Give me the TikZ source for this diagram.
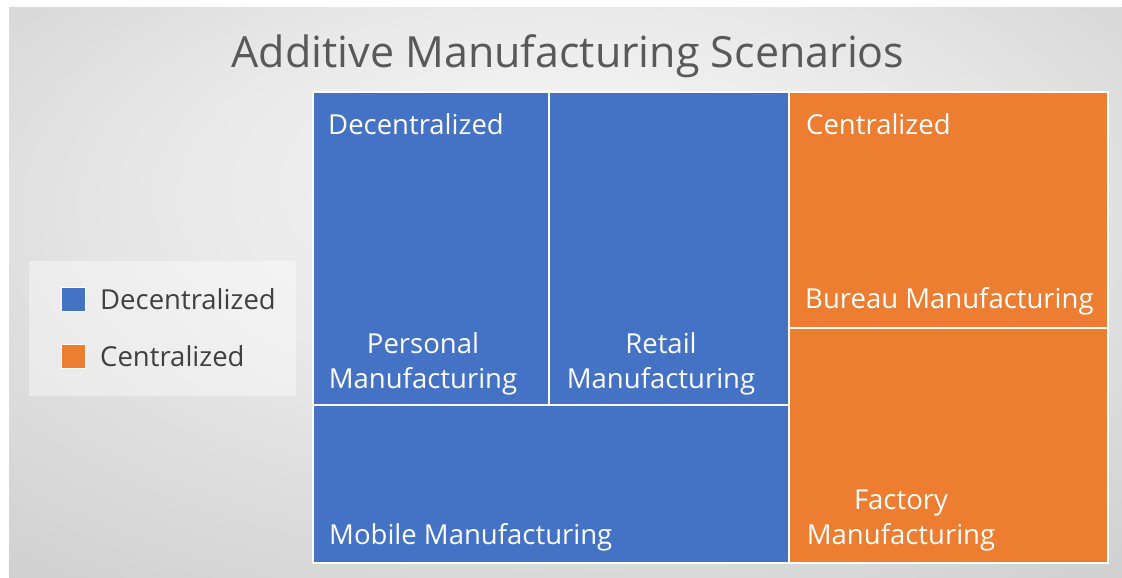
\documentclass[tikz,border=0pt]{standalone}
\usepackage{xcolor}
\usepackage{fontspec}
\setmainfont{Open Sans}
\usepackage{tikz}
\usetikzlibrary{positioning}

\definecolor{azul}{HTML}{4472C4}
\definecolor{naranja}{HTML}{ED7D31}
\definecolor{titulo}{HTML}{595959}
\definecolor{leyenda}{HTML}{404040}
\pgfdeclareradialshading{fondo}{\pgfpoint{0bp}{12bp}}{color(0bp)=(gray!6); color(18bp)=(gray!18); color(40bp)=(gray!38); color(60bp)=(gray!48)}

\begin{document}
\begin{tikzpicture}[x=1pt, y=-1pt,
  cell/.style={rectangle, draw=white, line width=2pt, inner sep=0pt, outer sep=0pt, anchor=north west},
  celltxt/.style={text=white, font=\fontsize{27.5}{35}\selectfont, align=center, inner sep=0pt},
  swatch/.style={rectangle, draw=white, line width=1pt, minimum size=24pt, inner sep=0pt},
  legtxt/.style={text=leyenda, font=\fontsize{27.5}{35}\selectfont, anchor=west, inner sep=0pt}]
\useasboundingbox (0,0) rectangle (1122,578);
\fill[white] (0,0) rectangle (1122,578);
\shade[shading=fondo] (9,8) rectangle (1122,578);

% Titulo
\node[text=titulo, font=\fontsize{43}{50}\selectfont, inner sep=0pt] (title) at (568,56) {Additive Manufacturing Scenarios};

% Celdas
\node[cell, fill=azul, minimum width=236pt, minimum height=313pt] (pers) at (313,92) {};
\node[cell, fill=azul, minimum width=240pt, minimum height=313pt] (ret) at (549,92) {};
\node[cell, fill=azul, minimum width=476pt, minimum height=158pt] (mob) at (313,405) {};
\node[cell, fill=naranja, minimum width=319pt, minimum height=236pt] (bur) at (789,92) {};
\node[cell, fill=naranja, minimum width=319pt, minimum height=235pt] (fac) at (789,328) {};

% Textos
\node[celltxt, anchor=west] (dec) at (328,124) {Decentralized};
\node[celltxt] (perstxt) at (423,364) {Personal\\Manufacturing};
\node[celltxt] (rettxt) at (661,364) {Retail\\Manufacturing};
\node[celltxt, anchor=west] (cen) at (806,124) {Centralized};
\node[celltxt, anchor=west] (burtxt) at (805,301) {Bureau Manufacturing};
\node[celltxt, anchor=west] (mobtxt) at (329,537) {Mobile Manufacturing};
\node[celltxt] (factxt) at (901,520) {Factory\\Manufacturing};

% Leyenda
\fill[white, opacity=0.4] (29,261) rectangle (296,396);
\node[swatch, fill=azul] (swdec) at (73.5,299.5) {};
\node[swatch, fill=naranja] (swcen) at (73.5,356.5) {};
\node[legtxt, right=14pt of swdec] (legdec) {Decentralized};
\node[legtxt, right=14pt of swcen] (legcen) {Centralized};
\end{tikzpicture}
\end{document}
